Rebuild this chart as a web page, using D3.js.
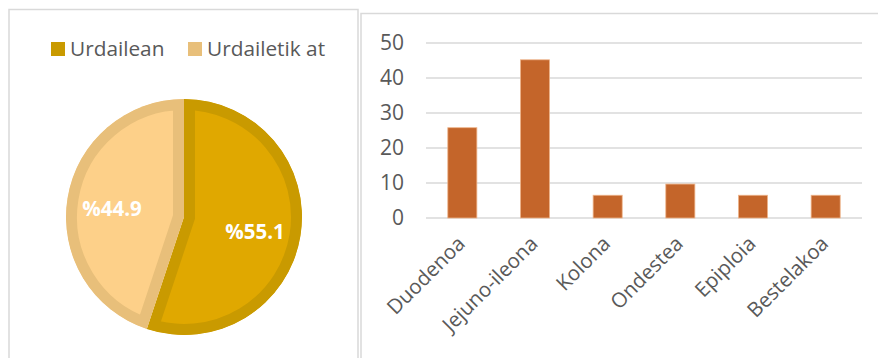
<!DOCTYPE html>
<html>
<head>
<meta charset="utf-8">
<script src="https://cdn.jsdelivr.net/npm/d3@7"></script>
<style>
  body { margin: 0; background: #fff; }
  text { font-family: "Open Sans", "Noto Sans", sans-serif; }
</style>
</head>
<body>
<script>
// pie data
var pieLabels = ["Urdailean", "Urdailetik at"];
var pieValues = [55.1, 44.9];
var pieFill = ["#e0a800", "#fdd089"];
var pieStroke = ["#c99a00", "#e8bf7a"];

// bar data
var categories = ["Duodenoa", "Jejuno-ileona", "Kolona", "Ondestea", "Epiploia", "Bestelakoa"];
var barValues = [25.8, 45.2, 6.5, 9.7, 6.5, 6.5];
var yTicks = [0, 10, 20, 30, 40, 50];

var W = 878, H = 358;

var svg = d3.select("body")
            .append("svg")
            .attr("width", W)
            .attr("height", H);

// panel borders
svg.append("rect")
    .attr("x", 9).attr("y", 9.5)
    .attr("width", 349).attr("height", 400)
    .attr("fill", "none")
    .attr("stroke", "#d9d9d9")
    .attr("stroke-width", 1.5);

svg.append("rect")
    .attr("x", 361).attr("y", 13.5)
    .attr("width", 540).attr("height", 400)
    .attr("fill", "none")
    .attr("stroke", "#d9d9d9")
    .attr("stroke-width", 1.5);

//---------------- Pie ----------------
var cx = 184, cy = 217, r = 118;

var pie = d3.pie().sort(null).value(function(d) { return d; });
var arc = d3.arc().innerRadius(0).outerRadius(r);
var arcs = pie(pieValues);

var gPie = svg.append("g")
    .attr("transform", "translate(" + cx + "," + cy + ")");

// clip each slice to itself so its border stays inside
var defs = svg.append("defs");
arcs.forEach(function(a, i) {
    defs.append("clipPath")
        .attr("id", "clip" + i)
        .append("path")
        .attr("d", arc(a));
});

gPie.selectAll("path.slice")
    .data(arcs)
    .enter()
    .append("path")
    .attr("class", "slice")
    .attr("d", arc)
    .attr("clip-path", function(d, i) { return "url(#clip" + i + ")"; })
    .attr("fill", function(d, i) { return pieFill[i]; })
    .attr("stroke", function(d, i) { return pieStroke[i]; })
    .attr("stroke-width", 22)
    .attr("stroke-linejoin", "miter");

// slice labels
var labelPos = [[71, 14], [-72, -9]];
gPie.selectAll("text.plabel")
    .data(arcs)
    .enter()
    .append("text")
    .attr("class", "plabel")
    .attr("x", function(d, i) { return labelPos[i][0]; })
    .attr("y", function(d, i) { return labelPos[i][1]; })
    .attr("text-anchor", "middle")
    .attr("dominant-baseline", "central")
    .attr("fill", "#fff")
    .attr("font-weight", "bold")
    .attr("font-size", "20.5px")
    .text(function(d, i) { return "%" + pieValues[i]; });

// legend
var legendX = [51, 188];
var legend = svg.selectAll("g.legend")
    .data(pieLabels)
    .enter()
    .append("g")
    .attr("class", "legend")
    .attr("transform", function(d, i) { return "translate(" + legendX[i] + ",42)"; });

legend.append("rect")
    .attr("width", 14).attr("height", 14)
    .attr("fill", function(d, i) { return pieStroke[i]; });

legend.append("text")
    .attr("x", 19).attr("y", 14)
    .attr("fill", "#595959")
    .attr("font-size", "20.8px")
    .text(function(d) { return d; });

//---------------- Bars ----------------
var x = d3.scaleBand()
    .domain(categories)
    .range([426, 862])
    .paddingInner(0.6)
    .paddingOuter(0.3);

var y = d3.scaleLinear()
    .domain([0, 50])
    .range([218, 43]);

var gBar = svg.append("g");

// gridlines
gBar.selectAll("line.grid")
    .data(yTicks)
    .enter()
    .append("line")
    .attr("class", "grid")
    .attr("x1", 426).attr("x2", 862)
    .attr("y1", function(d) { return y(d); })
    .attr("y2", function(d) { return y(d); })
    .attr("stroke", "#d9d9d9")
    .attr("stroke-width", 1.5);

// y labels
gBar.selectAll("text.ylab")
    .data(yTicks)
    .enter()
    .append("text")
    .attr("class", "ylab")
    .attr("x", 404)
    .attr("y", function(d) { return y(d); })
    .attr("dy", "0.35em")
    .attr("text-anchor", "end")
    .attr("fill", "#595959")
    .attr("font-size", "21px")
    .text(function(d) { return d; });

// bars
gBar.selectAll("rect.bar")
    .data(barValues)
    .enter()
    .append("rect")
    .attr("class", "bar")
    .attr("x", function(d, i) { return x(categories[i]); })
    .attr("width", x.bandwidth())
    .attr("y", function(d) { return y(d); })
    .attr("height", function(d) { return y(0) - y(d); })
    .attr("fill", "#c4652a")
    .attr("stroke", "#eeb48a")
    .attr("stroke-width", 0.8);

// x labels rotated
gBar.selectAll("text.xlab")
    .data(categories)
    .enter()
    .append("text")
    .attr("class", "xlab")
    .attr("transform", function(d) {
        return "translate(" + (x(d) + x.bandwidth() / 2 + 4) + ",245) rotate(-45)";
    })
    .attr("text-anchor", "end")
    .attr("fill", "#595959")
    .attr("font-size", "20.5px")
    .text(function(d) { return d; });
</script>
</body>
</html>
